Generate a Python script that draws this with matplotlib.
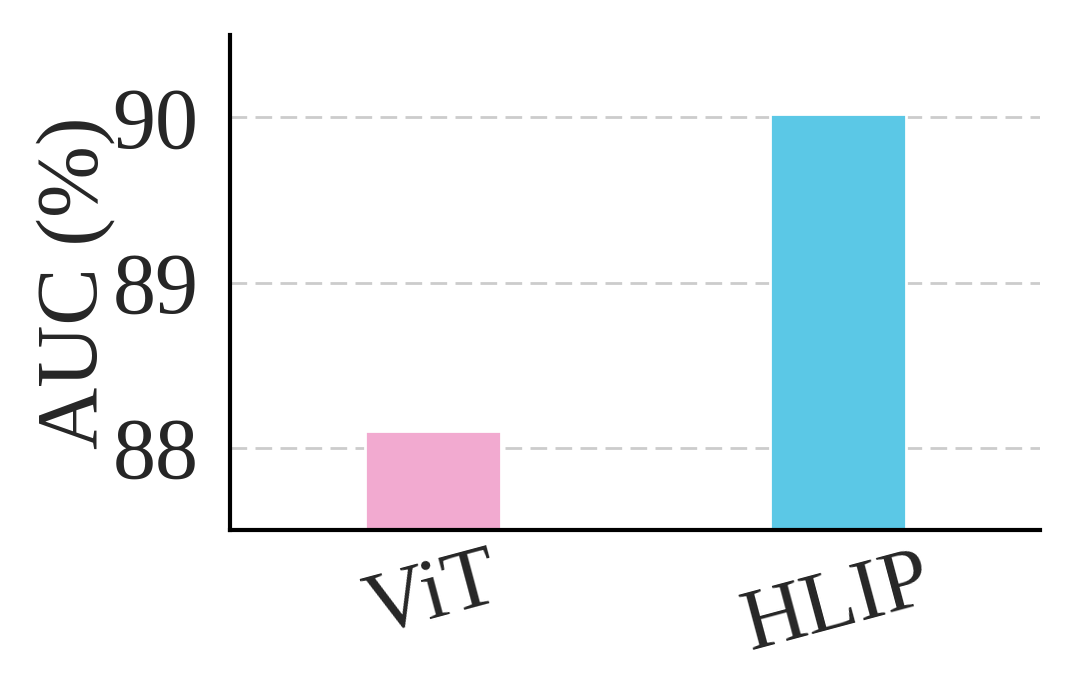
import matplotlib
matplotlib.use("Agg")
import matplotlib.pyplot as plt

models = ["ViT", "HLIP"]
auc = [88.1, 90.02]
colors = ["#F2AAD0", "#5BC8E6"]
yticks = [88, 89, 90]

plt.rcParams["font.family"] = ["Liberation Serif", "DejaVu Serif"]
plt.rcParams["text.color"] = "#262626"
plt.rcParams["axes.labelcolor"] = "#262626"
plt.rcParams["xtick.color"] = "#262626"
plt.rcParams["ytick.color"] = "#262626"

fig, ax = plt.subplots(figsize=(10.77, 6.98), dpi=100)
fig.subplots_adjust(left=0.214, right=0.966, top=0.95, bottom=0.24)

ax.set_axisbelow(True)
ax.yaxis.grid(True, color="#cccccc", lw=2, linestyle=(0, (6, 3)))
ax.bar(range(len(models)), auc, width=0.335, color=colors,
       edgecolor="white", linewidth=2)

ax.set_xlim(-0.5, 1.5)
ax.set_ylim(87.5, 90.5)
ax.set_yticks(yticks)
ax.set_xticks(range(len(models)))
ax.set_xticklabels(models, rotation=15)
ax.tick_params(axis="x", length=0, labelsize=62, pad=8)
ax.tick_params(axis="y", length=0, labelsize=62, pad=23)
ax.set_ylabel("AUC (%)", fontsize=62, labelpad=-2)

for s in ["top", "right"]:
    ax.spines[s].set_visible(False)
for s in ["left", "bottom"]:
    ax.spines[s].set_linewidth(3)
    ax.spines[s].set_color("black")

fig.savefig("out.png", dpi=100)
